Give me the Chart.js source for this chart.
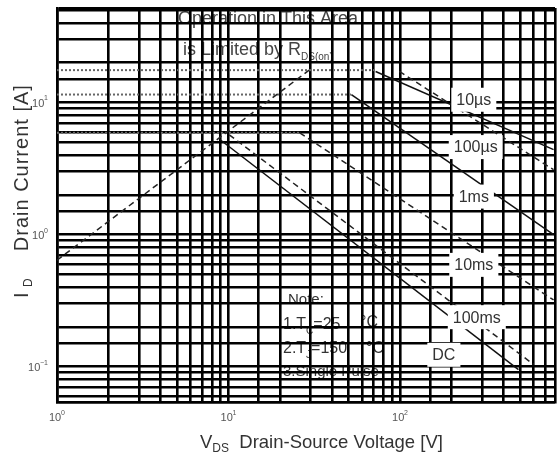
<!DOCTYPE html>
<html>
<head>
<meta charset="utf-8">
<script src="https://cdn.jsdelivr.net/npm/chart.js@4"></script>
<style>
body { margin: 0; background: #fff; }
</style>
</head>
<body>
<canvas id="soa" width="558" height="463"></canvas>
<script>
// axis ranges and labelled decades
const vMin = 1, vMax = 800;
const iMin = 0.054, iMax = 52;
const xDecades = [1, 10, 100];
const yDecades = [0.1, 1, 10];

// R_DS(on) limit (dashed)
const rdsV = [1, 29.5];
const rdsI = [0.64, 17.6];

// flat current limits (dotted)
const flatV = [[1, 72], [1, 52], [1, 26]];
const flatI = [17.6, 11.5, 5.9];

// solid pulse curves
const solidV = [[72, 785], [52, 785], [8.9, 490]];
const solidI = [[17.2, 4.4], [11.5, 1.0], [5.25, 0.095]];

// dashed pulse curves
const dashV = [[99, 785], [26, 785], [10.1, 600]];
const dashI = [[17.2, 3.1], [5.9, 0.32], [5.7, 0.104]];

const curveNames = ['10µs', '100µs', '1ms', '10ms', '100ms', 'DC'];

const FONT = '"Liberation Sans", Arial, sans-serif';

function pts(vs, is) {
    return vs.map((v, k) => ({ x: v, y: is[k] }));
}

const datasets = [];
datasets.push({ data: pts(rdsV, rdsI), borderColor: '#222', borderWidth: 1.5, borderDash: [6, 4] });
flatV.forEach((vs, k) => {
    datasets.push({ data: pts(vs, [flatI[k], flatI[k]]), borderColor: '#666', borderWidth: 2, borderDash: [2, 2] });
});
solidV.forEach((vs, k) => {
    datasets.push({ data: pts(vs, solidI[k]), borderColor: '#111', borderWidth: 1.5 });
});
dashV.forEach((vs, k) => {
    datasets.push({ data: pts(vs, dashI[k]), borderColor: '#222', borderWidth: 1.5, borderDash: [6, 4] });
});

function subText(ctx, parts, x, y) {
    // parts: [text, size, dy]
    let cx = x;
    parts.forEach(p => {
        ctx.font = p[1] + 'px ' + FONT;
        ctx.fillText(p[0], cx, y + p[2]);
        cx += ctx.measureText(p[0]).width;
    });
}

const soaText = {
    id: 'soaText',
    beforeDraw(chart) {
        const ctx = chart.ctx;
        ctx.save();
        ctx.fillStyle = '#444';
        ctx.textBaseline = 'middle';
        subText(ctx, [['Operation in This Area', 18, 0]], 178, 19);
        subText(ctx, [['is Limited by R', 18, 0], ['DS(on)', 10, 7]], 183, 50);
        ctx.fillStyle = '#333';
        subText(ctx, [['Note:', 15, 0]], 288, 300);
        subText(ctx, [['1.T', 16, 0], ['C', 10, 6], ['=25', 16, 0]], 283, 325);
        subText(ctx, [['°C', 16, 0]], 360, 323);
        subText(ctx, [['2.T', 16, 0], ['J', 10, 6], ['=150', 16, 0]], 283, 349);
        subText(ctx, [['°C', 16, 0]], 366, 349);
        subText(ctx, [['3.Single Pulse', 15, 0]], 283, 372);
        ctx.restore();
    },
    afterDraw(chart) {
        const ctx = chart.ctx;
        const xs = chart.scales.x, ys = chart.scales.y;
        ctx.save();
        // curve labels on white boxes
        const spots = [[269, 10.5], [276, 4.6], [269, 1.94], [269, 0.59], [280, 0.237], [180, 0.123]];
        ctx.font = '16px ' + FONT;
        ctx.textAlign = 'center';
        ctx.textBaseline = 'middle';
        curveNames.forEach((name, k) => {
            const px = xs.getPixelForValue(spots[k][0]);
            const py = ys.getPixelForValue(spots[k][1]);
            const w = ctx.measureText(name).width + 10;
            ctx.fillStyle = '#fff';
            ctx.fillRect(px - w / 2, py - 12, w, 24);
            ctx.fillStyle = '#333';
            ctx.fillText(name, px, py + 1);
        });
        // decade tick labels
        ctx.fillStyle = '#555';
        ctx.textAlign = 'left';
        const expo = v => String(Math.round(Math.log10(v))).replace('-', '\u2212');
        xDecades.forEach(v => {
            const px = xs.getPixelForValue(v);
            ctx.font = '11px ' + FONT;
            ctx.fillText('10', px - 8, 418);
            ctx.font = '7px ' + FONT;
            ctx.fillText(expo(v), px + 4, 413);
        });
        yDecades.forEach(v => {
            const py = ys.getPixelForValue(v);
            const e = expo(v);
            ctx.font = '7px ' + FONT;
            const ew = ctx.measureText(e).width;
            ctx.font = '11px ' + FONT;
            ctx.fillText('10', 48 - ew - 12, py + 1);
            ctx.font = '7px ' + FONT;
            ctx.fillText(e, 48 - ew, py - 4);
        });
        // axis titles
        ctx.fillStyle = '#333';
        ctx.textBaseline = 'alphabetic';
        subText(ctx, [['V', 18.5, 0], ['DS', 12, 4], ['  Drain-Source Voltage [V]', 18.5, 0]], 200, 448);
        ctx.translate(28, 298);
        ctx.rotate(-Math.PI / 2);
        ctx.letterSpacing = '1px';
        subText(ctx, [['I', 20, 0], [' D', 12, 4], ['    Drain Current [A]', 20, 0]], 0, 0);
        ctx.restore();
    }
};

new Chart(document.getElementById('soa'), {
    type: 'scatter',
    data: { datasets: datasets },
    options: {
        responsive: false,
        animation: false,
        showLine: true,
        elements: { point: { radius: 0 } },
        layout: { padding: { left: 57, top: 8, right: 3, bottom: 61 } },
        plugins: { legend: { display: false }, tooltip: { enabled: false } },
        scales: {
            x: {
                type: 'logarithmic', min: vMin, max: vMax,
                border: { color: '#000', width: 2.6 },
                grid: { color: '#000', lineWidth: 2.6, drawTicks: false },
                ticks: { display: false }
            },
            y: {
                type: 'logarithmic', min: iMin, max: iMax,
                border: { color: '#000', width: 2.6 },
                grid: { color: '#000', lineWidth: 2.6, drawTicks: false },
                ticks: { display: false }
            }
        }
    },
    plugins: [soaText]
});
</script>
</body>
</html>
